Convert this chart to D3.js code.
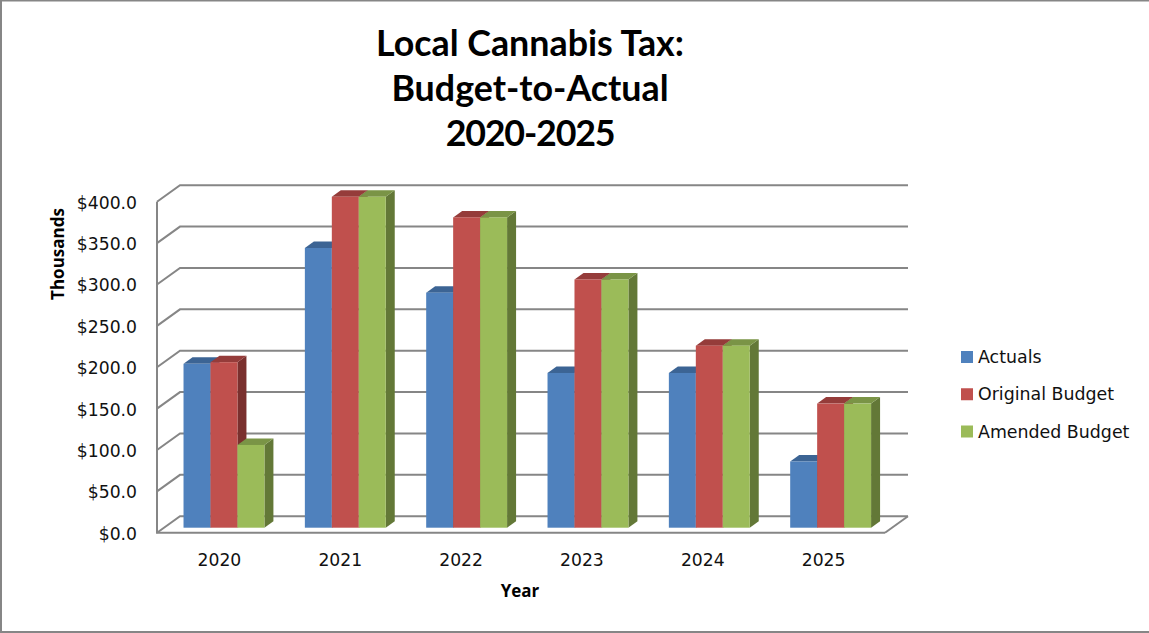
<!DOCTYPE html>
<html>
<head>
<meta charset="utf-8">
<script src="https://cdn.jsdelivr.net/npm/d3@7"></script>
<style>
  html, body { margin: 0; padding: 0; background: #fff; overflow: hidden; }
  svg { display: block; }
</style>
</head>
<body>
<svg id="chart"></svg>
<script>
const years = ["2020", "2021", "2022", "2023", "2024", "2025"];
const seriesNames = ["Actuals", "Original Budget", "Amended Budget"];
const actuals = [198, 338, 284, 187, 187, 80];
const originalBudget = [200, 400, 375, 300, 220, 150];
const amendedBudget = [100, 400, 375, 300, 220, 150];
const yTicks = [0, 50, 100, 150, 200, 250, 300, 350, 400];
const titleLines = ["Local Cannabis Tax:", "Budget-to-Actual", "2020-2025"];

const seriesValues = [actuals, originalBudget, amendedBudget];
const front = ["#4f81bd", "#c0504d", "#9bbb59"];
const top_ = ["#3c6494", "#953c3a", "#7a9446"];
const side = ["#2f4f76", "#7a302e", "#637837"];

const width = 1149;
const height = 633;
const font = "'DejaVu Sans', sans-serif";

// floor and walls of the 3d box
const wallLeft = 157, wallRight = 885;
const wallBottom = 532.7, wallTop = 201.7;
const depthX = 23, depthY = 16.5;

// bars stand a little behind the front edge of the floor
const barOffX = 6.3, barOffY = 5;
const barDepthX = 9, barDepthY = 6.5;

const svg = d3.select("#chart").attr("width", width).attr("height", height);

// picture frame: no line on the right side
svg.append("path")
    .attr("d", d3.line()([[width, 0.5], [1, 0.5], [1, height - 1], [width, height - 1]]))
    .attr("fill", "none").attr("stroke", "#868686").attr("stroke-width", 2);

const y = d3.scaleLinear().domain([0, 400]).range([wallBottom, wallTop]);
const x = d3.scaleBand().domain(years).range([wallLeft, wallRight]);
const xLabels = d3.scaleBand().domain(years).range([159, 884]);
const groupWidth = x.bandwidth() / 2 * 4 / 3;
const x1 = d3.scaleBand().domain(d3.range(3))
    .range([(x.bandwidth() - groupWidth) / 2, (x.bandwidth() + groupWidth) / 2]);

const line = d3.line();

// gridlines on back wall and their slanted part on the side wall
const grid = svg.append("g").attr("fill", "none").attr("stroke", "#868686").attr("stroke-width", 2);
grid.selectAll("path")
  .data(yTicks)
  .join("path")
    .attr("d", d => line([
      [wallLeft, y(d)],
      [wallLeft + depthX, y(d) - depthY],
      [wallRight + depthX, y(d) - depthY]
    ]));

// right edge of the floor and the axis lines
grid.append("path").attr("d", line([
  [wallRight + depthX, wallBottom - depthY],
  [wallRight, wallBottom]
]));
grid.append("path").attr("d", line([
  [wallLeft, wallTop],
  [wallLeft, wallBottom],
  [wallRight, wallBottom]
]));

// bars, left to right so nearer faces cover the sides
const bars = svg.append("g");
years.forEach((year, i) => {
  seriesValues.forEach((values, s) => {
    const x0 = x(year) + x1(s) + barOffX;
    const x2 = x0 + x1.bandwidth();
    const y0 = y(0) - barOffY;
    const yv = y(values[i]) - barOffY;
    const g = bars.append("g");
    g.append("path").attr("fill", side[s]).attr("d", line([
      [x2, yv], [x2 + barDepthX, yv - barDepthY],
      [x2 + barDepthX, y0 - barDepthY], [x2, y0]
    ]) + "Z");
    g.append("path").attr("fill", top_[s]).attr("d", line([
      [x0, yv], [x0 + barDepthX, yv - barDepthY],
      [x2 + barDepthX, yv - barDepthY], [x2, yv]
    ]) + "Z");
    g.append("rect").attr("fill", front[s])
      .attr("x", x0).attr("y", yv)
      .attr("width", x2 - x0).attr("height", y0 - yv);
  });
});

// y tick labels
svg.append("g").selectAll("text")
  .data(yTicks)
  .join("text")
    .attr("x", 137).attr("y", d => y(d) + 7)
    .attr("text-anchor", "end")
    .attr("font-family", font).attr("font-size", 17.2).attr("fill", "#111")
    .text(d => "$" + d3.format(".1f")(d));

// x tick labels
svg.append("g").selectAll("text")
  .data(years)
  .join("text")
    .attr("x", d => xLabels(d) + xLabels.bandwidth() / 2)
    .attr("y", 565.5)
    .attr("text-anchor", "middle")
    .attr("font-family", font).attr("font-size", 17.2).attr("fill", "#111")
    .text(d => d);

// axis titles
svg.append("text")
    .attr("x", 520).attr("y", 597)
    .attr("text-anchor", "middle")
    .attr("font-family", "'Open Sans', sans-serif").attr("font-size", 17).attr("font-weight", 700)
    .text("Year");
svg.append("text")
    .attr("transform", "translate(63.5,254) rotate(-90)")
    .attr("text-anchor", "middle")
    .attr("font-family", "'Open Sans', sans-serif").attr("font-size", 17).attr("font-weight", 700)
    .text("Thousands");

// title, digits in Lato run wider so the last line is tightened
svg.append("g").selectAll("text")
  .data(titleLines)
  .join("text")
    .attr("x", 530)
    .attr("y", (d, i) => 56 + i * 45)
    .attr("text-anchor", "middle")
    .attr("font-family", "Lato, sans-serif").attr("font-size", 35.8).attr("font-weight", 700)
    .attr("letter-spacing", (d, i) => i === 2 ? -1.2 : 0)
    .text(d => d);

// legend
const legendY = d3.scalePoint().domain(seriesNames).range([357, 431.5]);
const legend = svg.append("g").selectAll("g")
  .data(seriesNames)
  .join("g")
    .attr("transform", d => `translate(961,${legendY(d)})`);
legend.append("rect")
    .attr("x", 0).attr("y", -6).attr("width", 12).attr("height", 12)
    .attr("fill", (d, i) => front[i]);
legend.append("text")
    .attr("x", 17).attr("y", 6)
    .attr("font-family", font).attr("font-size", 17.4).attr("fill", "#111")
    .text(d => d);
</script>
</body>
</html>
